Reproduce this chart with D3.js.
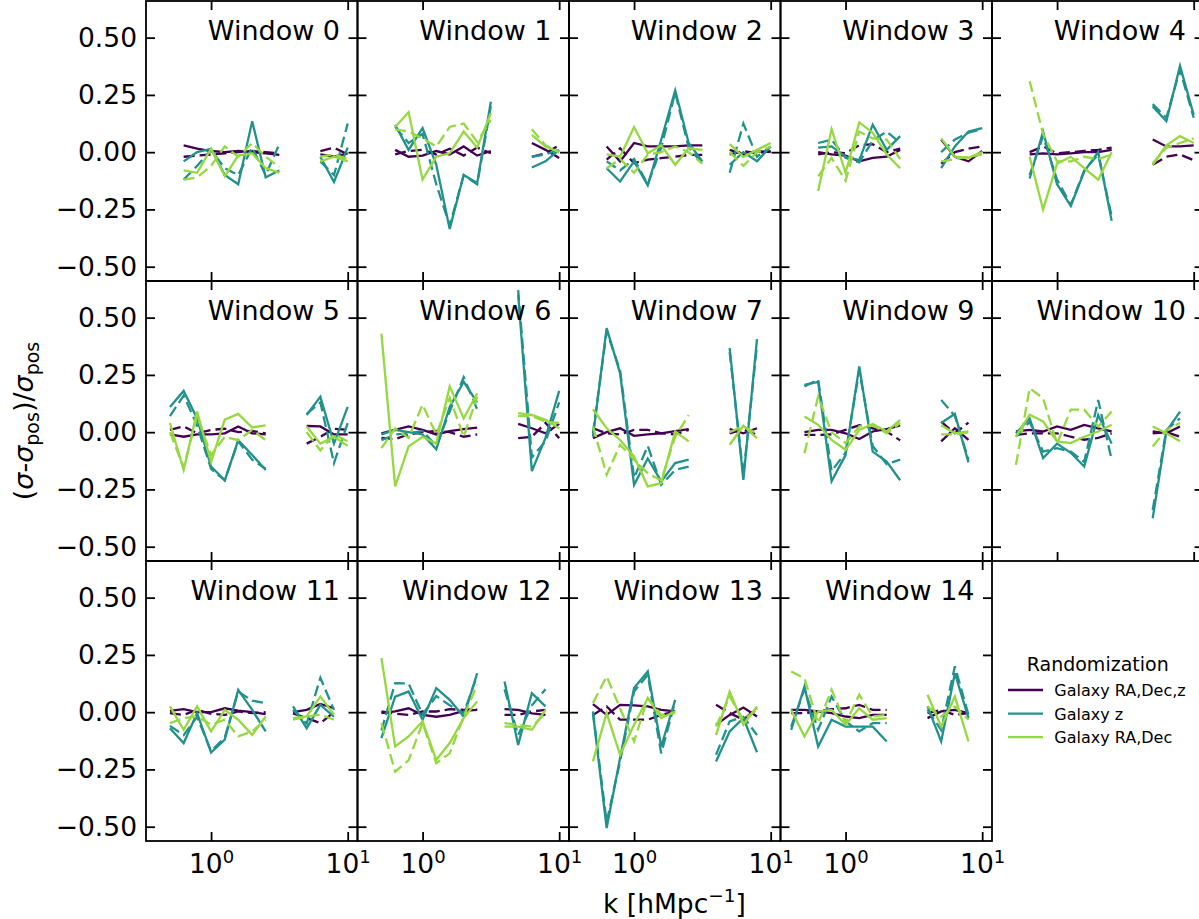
<!DOCTYPE html>
<html><head><meta charset="utf-8">
<script src="https://cdn.jsdelivr.net/npm/d3@7"></script>
<style>body{margin:0;background:#fff;overflow:hidden} text{font-family:"DejaVu Sans",sans-serif;fill:#000}</style>
</head><body><svg id="c" width="1199" height="919"></svg>
<script>
// ---------- data ----------
const windowLabels = ["Window 0","Window 1","Window 2","Window 3","Window 4","Window 5","Window 6","Window 7","Window 9","Window 10","Window 11","Window 12","Window 13","Window 14"];
const seriesNames = ["Galaxy RA,Dec,z","Galaxy z","Galaxy RA,Dec"];
const xTicks = [1, 10];
const yTicks = [-0.5, -0.25, 0, 0.25, 0.5];

const kLowA = [0.63, 0.79, 1.0, 1.26, 1.58, 2.0, 2.51, 3.16];
const kLowB = [0.63, 0.79, 1.0, 1.26, 1.58, 2.0, 2.51];
const kLowC = [0.5, 0.63, 0.79, 1.0, 1.26, 1.58, 2.0, 2.51];
const kLowD = [0.5, 0.63, 0.79, 1.0, 1.26, 1.58, 2.0];
const kLowE = [0.4, 0.5, 0.63, 0.79, 1.0, 1.26, 1.58, 2.0];
const kHighA = [6.31, 7.94, 10.0];
const kHighB = [5.01, 6.31, 7.94, 10.0];
const kHighC = [5.01, 6.31, 7.94];
const kHighD = [3.98, 5.01, 6.31, 7.94];
const windowLowK  = [kLowA,kLowA,kLowA,kLowB,kLowB,kLowC,kLowC,kLowC,kLowC,kLowC,kLowC,kLowC,kLowD,kLowE];
const windowHighK = [kHighA,kHighA,kHighB,kHighB,kHighB,kHighB,kHighB,kHighC,kHighC,kHighC,kHighD,kHighD,kHighD,kHighD];

// each entry: [low-k values, high-k values]
const raDecZSolid = [
 [[0.03,0.015,0.005,0.0,0.005,0.0,-0.005,-0.012],[-0.01,-0.02,-0.005]],
 [[0.01,-0.02,-0.015,0.005,-0.01,0.025,-0.015,0.005],[0.04,0.01,-0.025]],
 [[0.025,-0.04,0.04,0.025,0.025,0.025,0.03,0.03],[0.01,-0.01,0.005,0.0]],
 [[0.0,-0.01,-0.015,-0.04,-0.025,-0.02,0.01],[0.055,-0.02,-0.04,0.005]],
 [[-0.01,-0.005,-0.01,-0.005,0.0,0.0,0.01],[0.055,0.025,0.025,0.03]],
 [[-0.01,-0.02,-0.01,-0.01,-0.005,0.025,-0.005,-0.01],[0.027,0.025,-0.01,-0.01]],
 [[-0.005,0.01,0.025,0.01,-0.01,0.005,0.013,0.02],[0.036,0.017,-0.005,0.036]],
 [[-0.026,0.0,0.017,-0.016,-0.01,-0.005,0.005,0.013],[0.013,-0.005,0.017]],
 [[0.0,0.01,0.01,-0.005,-0.03,0.003,0.013,0.03],[-0.04,0.017,-0.034]],
 [[0.003,0.01,0.003,0.025,0.01,0.032,0.017,0.003],[0.003,-0.005,0.025]],
 [[0.006,0.013,0.0,0.0,0.017,0.007,0.0,-0.009],[0.0,0.01,0.036,0.017]],
 [[-0.004,0.003,0.017,-0.012,-0.02,-0.012,0.006,0.01],[0.013,0.01,-0.005,-0.012]],
 [[0.035,-0.012,0.032,0.03,0.025,0.01,0.003],[-0.055,-0.012,0.02,-0.019]],
 [[0.01,0.01,0.003,-0.004,-0.019,-0.026,-0.012,-0.012],[-0.026,0.003,0.01,-0.004]]
];
const raDecZDashed = [
 [[-0.02,-0.015,-0.01,-0.005,0.0,0.005,0.0,-0.005],[0.005,0.02,-0.01]],
 [[-0.01,0.005,0.01,-0.01,0.015,-0.015,0.02,-0.005],[-0.02,-0.005,0.03]],
 [[-0.033,0.017,-0.048,-0.033,-0.026,-0.02,-0.012,-0.012],[-0.01,0.005,-0.005,0.005]],
 [[-0.01,0.0,-0.005,0.03,0.035,0.0,0.015],[-0.05,0.0,0.015,0.025]],
 [[0.0,0.025,-0.005,0.0,0.005,0.01,0.02],[-0.055,-0.02,-0.01,-0.035]],
 [[0.01,0.025,-0.005,0.01,0.015,0.0,0.005,-0.005],[-0.05,-0.02,0.015,0.01]],
 [[-0.025,-0.03,-0.01,0.0,0.005,0.0,-0.02,-0.01],[-0.026,-0.02,0.04,-0.026]],
 [[0.017,-0.005,-0.01,0.01,0.01,-0.005,-0.01,0.01],[-0.005,0.013,-0.012]],
 [[-0.012,-0.012,-0.01,0.01,0.03,0.017,0.003,-0.036],[0.046,-0.005,0.042]],
 [[-0.012,-0.005,-0.005,-0.005,-0.02,-0.033,-0.025,-0.005],[-0.005,0.0,-0.02]],
 [[-0.004,-0.012,0.01,-0.007,-0.012,0.003,-0.004,0.0],[-0.005,-0.026,-0.048,0.0]],
 [[0.003,-0.007,-0.012,0.003,0.003,0.013,0.01,0.013],[-0.012,-0.012,0.003,0.01]],
 [[-0.012,0.025,-0.033,-0.033,-0.033,-0.012,0.003],[0.032,-0.004,-0.033,0.017]],
 [[-0.004,-0.004,0.003,0.013,0.017,0.032,0.01,0.01],[-0.004,0.01,-0.012,-0.004]]
];
const zSolid = [
 [[-0.04,0.0,0.015,-0.1,-0.14,0.135,-0.11,-0.08],[-0.02,-0.13,0.02]],
 [[0.12,0.01,0.105,-0.055,-0.335,-0.1,-0.135,0.22],[-0.067,-0.04,0.01]],
 [[-0.07,-0.128,-0.04,-0.145,0.054,0.27,0.04,-0.04],[-0.055,0.0,-0.04,0.025]],
 [[0.02,0.025,-0.02,-0.035,0.12,0.01,0.07],[-0.07,0.025,0.09,0.105]],
 [[-0.115,0.09,-0.14,-0.235,-0.085,0.0,-0.3],[0.2,0.135,0.377,0.163]],
 [[0.11,0.18,0.06,-0.15,-0.21,-0.035,-0.1,-0.165],[0.075,0.155,-0.05,0.11]],
 [[-0.01,0.01,0.0,-0.01,-0.075,0.11,0.22,0.13],[0.6,-0.17,-0.025,0.18]],
 [[-0.02,0.454,0.258,-0.23,-0.115,-0.215,-0.135,-0.12],[0.367,-0.208,0.406]],
 [[0.207,0.22,-0.215,-0.1,0.287,-0.085,-0.128,-0.21],[0.04,0.08,-0.132]],
 [[-0.005,0.06,-0.113,-0.05,-0.09,-0.15,0.075,-0.05],[-0.376,0.003,0.09]],
 [[-0.07,-0.135,-0.004,-0.176,-0.12,0.097,0.01,-0.084],[0.025,-0.07,0.032,-0.02]],
 [[-0.113,0.068,0.09,-0.033,0.105,0.054,-0.02,0.17],[0.134,-0.143,0.083,0.025]],
 [[-0.004,-0.506,-0.2,0.105,0.178,-0.15,0.054],[-0.215,-0.084,-0.026,-0.175]],
 [[-0.077,0.112,-0.15,-0.033,-0.063,-0.063,-0.063,-0.128],[0.025,-0.128,0.17,-0.026]]
];
const zDashed = [
 [[-0.12,-0.06,0.01,-0.07,-0.1,0.02,-0.1,0.035],[-0.04,-0.1,0.125]],
 [[0.11,0.04,0.08,-0.14,-0.32,-0.1,-0.14,0.2],[-0.02,-0.01,0.01]],
 [[-0.04,-0.08,-0.03,-0.14,0.02,0.26,0.02,-0.05],[-0.09,0.125,-0.02,0.025]],
 [[0.04,0.055,-0.025,-0.045,0.05,0.09,0.04],[0.0,0.055,0.085,0.1]],
 [[-0.1,0.07,-0.12,-0.23,-0.08,-0.01,-0.28],[0.21,0.15,0.36,0.15]],
 [[0.07,0.16,0.03,-0.16,-0.21,-0.04,-0.12,-0.16],[0.08,0.13,-0.135,0.04]],
 [[-0.035,-0.01,-0.005,0.005,-0.06,0.09,0.24,0.1],[0.62,-0.11,-0.04,0.13]],
 [[-0.005,0.44,0.27,-0.2,-0.06,-0.23,-0.165,-0.15],[0.35,-0.19,0.38]],
 [[0.2,0.23,-0.17,-0.09,0.27,-0.06,-0.14,-0.12],[0.141,0.07,-0.12]],
 [[-0.02,0.045,-0.085,-0.07,-0.085,-0.13,0.14,-0.12],[-0.34,0.01,0.06]],
 [[-0.06,-0.1,-0.02,-0.17,-0.11,0.09,0.05,0.04],[0.01,-0.05,0.15,0.01]],
 [[-0.08,0.127,0.125,-0.01,0.07,0.03,-0.005,0.16],[0.1,-0.1,0.03,0.1]],
 [[0.003,-0.48,-0.215,0.09,0.163,-0.18,0.047],[-0.186,-0.04,-0.02,-0.1]],
 [[-0.063,0.1,-0.077,0.068,-0.04,-0.084,-0.048,-0.048],[0.01,-0.077,0.2,-0.012]]
];
const raDecSolid = [
 [[-0.08,-0.09,0.015,-0.105,-0.015,-0.005,-0.07,-0.09],[-0.04,-0.02,-0.04]],
 [[0.11,0.175,-0.12,-0.02,-0.005,0.09,0.02,0.17],[0.075,0.025,0.0]],
 [[-0.01,-0.02,0.11,-0.005,0.03,-0.055,0.017,0.01],[0.035,-0.02,0.01,0.04]],
 [[-0.17,0.1,-0.09,0.13,0.085,-0.01,-0.07],[0.06,-0.02,-0.025,0.0]],
 [[-0.02,-0.25,-0.05,-0.02,-0.07,-0.12,0.0],[-0.055,0.03,0.07,0.04]],
 [[0.04,-0.165,0.09,-0.13,0.055,0.08,0.02,0.03],[0.025,-0.05,-0.02,-0.06]],
 [[0.43,-0.237,-0.063,-0.02,-0.05,0.2,0.06,0.17],[0.083,0.075,0.054,0.017]],
 [[0.1,0.017,-0.034,-0.106,-0.237,-0.223,0.003,-0.04],[-0.055,0.028,-0.026]],
 [[0.068,0.032,-0.034,-0.077,0.01,0.036,0.003,0.054],[0.03,-0.005,0.003]],
 [[-0.02,0.076,0.047,-0.04,-0.048,-0.02,0.003,0.032],[0.025,-0.005,-0.04]],
 [[0.025,-0.077,0.025,-0.084,0.01,-0.033,-0.099,-0.019],[-0.026,-0.019,0.068,-0.01]],
 [[0.236,-0.15,-0.106,-0.04,-0.208,-0.135,-0.026,0.047],[-0.063,-0.063,-0.077,0.01]],
 [[-0.215,-0.004,-0.186,-0.055,0.061,-0.026,0.003],[-0.1,0.09,-0.055,0.025]],
 [[0.01,-0.106,0.003,0.01,-0.055,0.017,-0.033,-0.026],[0.076,-0.063,0.068,-0.128]]
];
const raDecDashed = [
 [[-0.12,-0.11,-0.06,0.025,-0.02,0.04,-0.02,-0.065],[-0.02,-0.01,-0.03]],
 [[0.1,0.09,0.06,0.025,0.11,0.125,0.045,0.14],[0.1,0.03,0.0]],
 [[-0.07,-0.03,-0.09,-0.01,0.0,0.025,0.0,-0.05],[0.0,-0.06,0.0,0.025]],
 [[-0.105,-0.025,-0.125,0.09,0.06,0.055,-0.03],[-0.04,-0.03,-0.02,-0.01]],
 [[0.31,0.08,-0.04,-0.04,-0.02,-0.03,-0.01],[-0.05,0.02,0.04,0.06]],
 [[0.0,-0.155,0.07,-0.1,-0.02,-0.035,0.01,-0.035],[0.0,-0.08,-0.01,-0.04]],
 [[-0.07,0.017,-0.025,0.12,-0.01,0.15,-0.02,0.155],[0.07,0.07,0.045,0.04]],
 [[0.025,-0.186,-0.055,-0.12,-0.18,-0.21,-0.02,0.075],[0.0,0.025,-0.005]],
 [[-0.092,0.156,0.0,-0.048,0.025,0.03,-0.005,0.04],[-0.01,-0.01,0.0]],
 [[-0.143,0.192,0.148,-0.05,0.098,0.098,0.025,0.09],[-0.063,0.01,0.04]],
 [[-0.048,-0.026,-0.019,-0.055,-0.033,-0.106,-0.084,-0.033],[-0.033,-0.02,-0.01,-0.033]],
 [[-0.048,-0.26,-0.21,-0.048,-0.223,-0.18,-0.019,0.12],[-0.048,-0.055,-0.063,-0.005]],
 [[0.04,0.156,0.017,-0.128,0.061,-0.012,-0.004],[-0.063,0.068,-0.033,0.01]],
 [[0.178,0.148,-0.048,0.098,-0.048,0.076,-0.019,-0.012],[0.025,-0.019,0.025,-0.033]]
];
const colors = ["#440154", "#21918c", "#95d840"];

// ---------- layout ----------
const svg = d3.select("#c");
const L0 = 146, PW = 211.5, T0 = 1, PH = 280, NCOL = 5;
const tickLen = 9;
const dashPattern = "11,5";
const lineSets = [
  {data: raDecZSolid, color: colors[0], dash: null},
  {data: raDecZDashed, color: colors[0], dash: dashPattern},
  {data: zSolid, color: colors[1], dash: null},
  {data: zDashed, color: colors[1], dash: dashPattern},
  {data: raDecSolid, color: colors[2], dash: null},
  {data: raDecDashed, color: colors[2], dash: dashPattern}
];

windowLabels.forEach((name, i) => {
  const col = i % NCOL, row = Math.floor(i / NCOL);
  const left = L0 + col * PW, top = T0 + row * PH;
  const x = d3.scaleLog().domain([0.334, 11.8]).range([left, left + PW]);
  const y = d3.scaleLinear().domain([-0.5625, 0.66]).range([top + PH, top]);
  const g = svg.append("g");
  const clipId = "clip" + i;
  g.append("clipPath").attr("id", clipId).append("rect")
    .attr("x", left).attr("y", top).attr("width", PW).attr("height", PH);
  const lines = g.append("g").attr("clip-path", `url(#${clipId})`);
  const line = d3.line().x(d => x(d[0])).y(d => y(d[1]));
  lineSets.forEach(s => {
    const segs = [
      windowLowK[i].map((k, j) => [k, s.data[i][0][j]]),
      windowHighK[i].map((k, j) => [k, s.data[i][1][j]])
    ];
    segs.forEach(seg => {
      lines.append("path").attr("d", line(seg)).attr("fill", "none")
        .attr("stroke", s.color).attr("stroke-width", 2.3)
        .attr("stroke-dasharray", s.dash).attr("stroke-linejoin", "miter");
    });
  });
  // axes (inward ticks)
  const showY = col === 0;
  const showX = row === 2;
  const ax = g.append("g").attr("class", "axes");
  ax.append("g").attr("transform", `translate(${left},0)`)
    .call(d3.axisLeft(y).tickValues(yTicks).tickSizeInner(-tickLen).tickSizeOuter(0).tickPadding(9)
      .tickFormat(showY ? d3.format(".2f") : () => ""));
  ax.append("g").attr("transform", `translate(${left + PW},0)`)
    .call(d3.axisRight(y).tickValues(yTicks).tickSizeInner(-tickLen).tickSizeOuter(0).tickFormat(() => ""));
  const bx = ax.append("g").attr("transform", `translate(0,${top + PH})`)
    .call(d3.axisBottom(x).tickValues(xTicks).tickSizeInner(-tickLen).tickSizeOuter(0).tickPadding(13)
      .tickFormat(d => showX ? String(d) : ""));
  ax.append("g").attr("transform", `translate(0,${top})`)
    .call(d3.axisTop(x).tickValues(xTicks).tickSizeInner(-tickLen).tickSizeOuter(0).tickFormat(() => ""));
  if (showX) {
    bx.selectAll(".tick text").each(function(d) {
      const t = d3.select(this);
      t.text(null);
      t.append("tspan").text("10");
      t.append("tspan").attr("dy", -10).attr("font-size", 18).text(String(Math.round(Math.log10(d))));
    });
  }
  ax.selectAll(".domain").remove();
  ax.selectAll(".tick line").attr("stroke", "#000").attr("stroke-width", 1.8);
  ax.selectAll(".tick text").attr("font-size", 26.5).attr("font-family", "DejaVu Sans").attr("fill", "#000");
  // frame
  g.append("rect").attr("x", left).attr("y", top).attr("width", PW).attr("height", PH)
    .attr("fill", "none").attr("stroke", "#000").attr("stroke-width", 1.8);
  // title
  g.append("text").attr("x", left + PW - 17.5).attr("y", top + 38.5)
    .attr("text-anchor", "end").attr("font-size", 27).text(name);
});

// axis labels
const yl = svg.append("text").attr("transform", "translate(33,421) rotate(-90)")
  .attr("text-anchor", "middle").attr("font-size", 27);
yl.append("tspan").text("(");
yl.append("tspan").attr("font-style", "italic").text("σ");
yl.append("tspan").text("-");
yl.append("tspan").attr("font-style", "italic").text("σ");
yl.append("tspan").attr("font-size", 19).attr("dy", 6).text("pos");
yl.append("tspan").attr("dy", -6).text(")/");
yl.append("tspan").attr("font-style", "italic").text("σ");
yl.append("tspan").attr("font-size", 19).attr("dy", 6).text("pos");

const xl = svg.append("text").attr("x", 674.5).attr("y", 912.7)
  .attr("text-anchor", "middle").attr("font-size", 26.5);
xl.append("tspan").text("k [hMpc");
xl.append("tspan").attr("font-size", 18.5).attr("dy", -11).text("−1");
xl.append("tspan").attr("dy", 11).text("]");

// legend
const lg = svg.append("g");
lg.append("text").attr("x", 1097.7).attr("y", 670.7).attr("text-anchor", "middle")
  .attr("font-size", 19).text("Randomization");
seriesNames.forEach((n, i) => {
  const yy = 690 + i * 23.6;
  lg.append("line").attr("x1", 1008).attr("x2", 1043).attr("y1", yy).attr("y2", yy)
    .attr("stroke", colors[i]).attr("stroke-width", 2.3);
  lg.append("text").attr("x", 1054.3).attr("y", yy + 6).attr("font-size", 16).text(n);
});
</script></body></html>
